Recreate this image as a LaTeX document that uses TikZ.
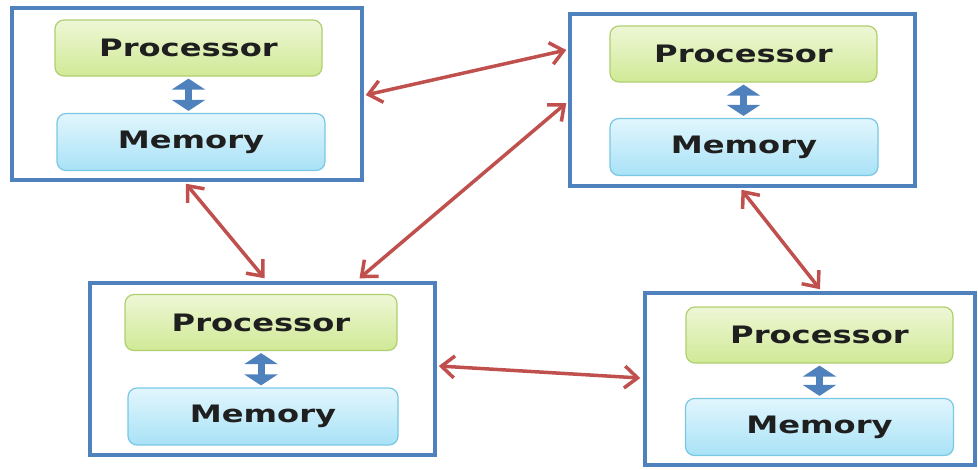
\documentclass[tikz,border=0pt]{standalone}
\usepackage{fontspec}
\usetikzlibrary{arrows.meta}
\newfontfamily\lblfont{DejaVu Sans}[FakeStretch=1.34]
\definecolor{framecol}{RGB}{79,129,189}
\definecolor{linkcol}{RGB}{192,80,77}
\definecolor{cpuborder}{RGB}{176,207,112}
\definecolor{cputop}{RGB}{238,247,214}
\definecolor{cpubot}{RGB}{208,233,150}
\definecolor{memborder}{RGB}{120,200,228}
\definecolor{memtop}{RGB}{226,246,253}
\definecolor{membot}{RGB}{168,226,246}
\definecolor{busarrow}{RGB}{79,129,189}
\tikzset{
  nodebox/.style={draw=framecol, line width=3.5pt, rectangle, inner sep=0pt},
  unitbox/.style={rectangle, rounded corners=9pt, line width=1.2pt, inner sep=0pt,
    font=\lblfont\bfseries\fontsize{24}{27}\selectfont, text=black!88},
  cpu/.style={unitbox, draw=cpuborder, top color=cputop, bottom color=cpubot,
    minimum width=267pt, minimum height=56pt},
  mem/.style={unitbox, draw=memborder, top color=memtop, bottom color=membot,
    minimum width=268pt, minimum height=57pt},
  bus/.style={draw=busarrow, line width=7pt,
    {Triangle[length=11pt,width=33pt]}-{Triangle[length=11pt,width=33pt]},
    shorten <=2pt, shorten >=2pt},
  link/.style={draw=linkcol, line width=3.5pt,
    {Straight Barb[length=13pt,width=22pt,line width=3.5pt]}-{Straight Barb[length=13pt,width=22pt,line width=3.5pt]}}
}
\begin{document}
\begin{tikzpicture}[x=1pt,y=-1pt]
\useasboundingbox (0,0) rectangle (978,469);

% four processing nodes, each a processor above its local memory
\node[nodebox, minimum width=350pt, minimum height=172pt] (b1) at (187,94) {};
\node[cpu] (p1) at (188.5,48) {Processor};
\node[mem] (m1) at (191,142) {Memory};

\node[nodebox, minimum width=345pt, minimum height=172pt] (b2) at (742.5,100) {};
\node[cpu] (p2) at (743.5,54) {Processor};
\node[mem] (m2) at (744,147) {Memory};

\node[nodebox, minimum width=345pt, minimum height=172pt] (b3) at (262.5,369) {};
\node[cpu, minimum width=272pt] (p3) at (261,322.5) {Processor};
\node[mem, minimum width=270pt] (m3) at (263,416.5) {Memory};

\node[nodebox, minimum width=330pt, minimum height=172pt] (b4) at (810,379) {};
\node[cpu] (p4) at (819.5,335) {Processor};
\node[mem] (m4) at (819.5,427) {Memory};

% processor-memory buses (vertical, below each processor)
\draw[bus] (p1.south) -- (p1.south |- m1.north);
\draw[bus] (p2.south) -- (p2.south |- m2.north);
\draw[bus] (p3.south) -- (p3.south |- m3.north);
\draw[bus] (p4.south) -- (p4.south |- m4.north);

% interconnect links between nodes
\draw[link] ([xshift=2pt,yshift=-1pt]b1.east) -- ([xshift=-2pt,yshift=50pt]b2.west);
\draw[link] ([xshift=-1pt,yshift=-2pt]b1.south) -- ([xshift=2pt,yshift=3pt]b3.north);
\draw[link] ([xshift=97pt,yshift=3pt]b3.north) -- ([xshift=-2pt,yshift=-3pt]b2.west);
\draw[link] ([xshift=-1pt,yshift=-2pt]b2.south) -- ([xshift=10pt,yshift=2pt]b4.north);
\draw[link] ([xshift=2pt,yshift=3pt]b3.east) -- ([xshift=-3pt,yshift=1pt]b4.west);
\end{tikzpicture}
\end{document}
